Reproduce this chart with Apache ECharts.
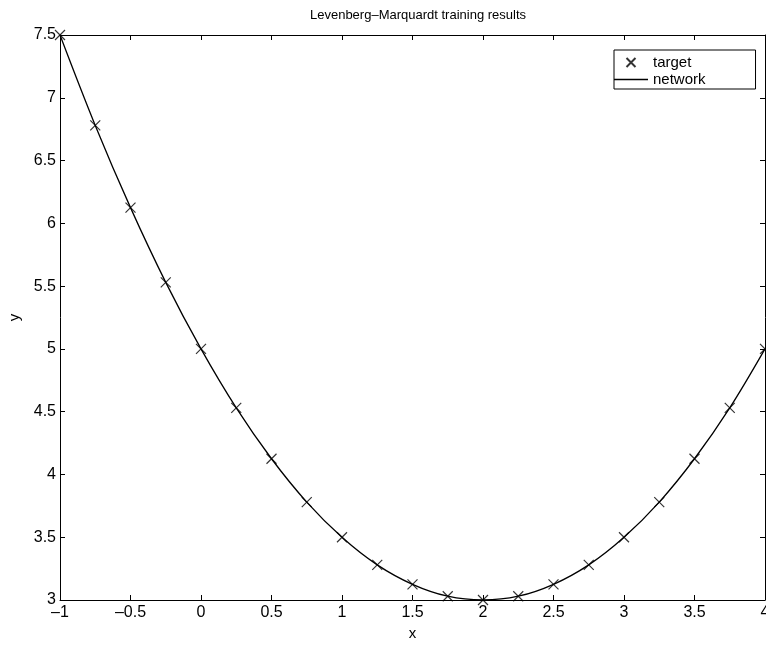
<!DOCTYPE html>
<html>
<head>
<meta charset="utf-8">
<script src="https://cdn.jsdelivr.net/npm/echarts@6/dist/echarts.min.js"></script>
<style>html,body{margin:0;padding:0;background:#fff}#c{width:766px;height:646px}</style>
</head>
<body>
<div id="c"></div>
<script>
var xValues = [-1, -0.75, -0.5, -0.25, 0, 0.25, 0.5, 0.75, 1, 1.25, 1.5, 1.75, 2, 2.25, 2.5, 2.75, 3, 3.25, 3.5, 3.75, 4];
var targetValues = [7.5, 6.78, 6.125, 5.53, 5.0, 4.53, 4.125, 3.78, 3.5, 3.28, 3.125, 3.03, 3.0, 3.03, 3.125, 3.28, 3.5, 3.78, 4.125, 4.53, 5.0];
var networkValues = [7.5, 6.78, 6.125, 5.53, 5.0, 4.53, 4.125, 3.78, 3.5, 3.28, 3.125, 3.03, 3.0, 3.03, 3.125, 3.28, 3.5, 3.78, 4.125, 4.53, 5.0];
var titleText = 'Levenberg–Marquardt training results';
var seriesNames = ['target', 'network'];

function pairs(xs, ys) { return xs.map(function (x, i) { return [x, ys[i]]; }); }
function fmt(v) { return String(v).replace('-', '–'); }

var FONT = 'Liberation Sans, Arial, sans-serif';
var crossPath = 'path://M0,0L10,10M10,0L0,10';

var baseAxis = {
  axisLine: { show: true, onZero: false, lineStyle: { color: '#000', width: 1 } },
  axisTick: { show: true, inside: true, length: 5, lineStyle: { color: '#000' } },
  splitLine: { show: false }
};

var chart = echarts.init(document.getElementById('c'), null, { renderer: 'canvas' });
chart.setOption({
  backgroundColor: '#fff',
  animation: false,
  title: {
    text: titleText, left: 413, top: 4, textAlign: 'center',
    textStyle: { fontFamily: FONT, fontSize: 13, fontWeight: 'normal', color: '#000' }
  },
  legend: {
    orient: 'vertical', left: 614, top: 50,
    padding: [5, 50, 2, 0], itemWidth: 34, itemHeight: 9, itemGap: 2,
    borderColor: '#000', borderWidth: 1, backgroundColor: '#fff',
    textStyle: { fontFamily: FONT, fontSize: 15, color: '#000' },
    data: [
      { name: seriesNames[0] },
      { name: seriesNames[1], icon: 'path://M0,0L34,0L34,1.3L0,1.3Z', itemStyle: { color: '#000', borderWidth: 0 } }
    ]
  },
  grid: { left: 60, right: 1, top: 35, bottom: 46, containLabel: false, outerBoundsMode: 'none' },
  xAxis: [
    Object.assign({}, baseAxis, {
      type: 'value', min: -1, max: 4, interval: 0.5, position: 'bottom',
      name: 'x', nameLocation: 'middle', nameGap: 26,
      nameTextStyle: { fontFamily: FONT, fontSize: 15, color: '#000' },
      axisLabel: { fontFamily: FONT, fontSize: 16, color: '#000', margin: 5, formatter: fmt }
    }),
    Object.assign({}, baseAxis, {
      type: 'value', min: -1, max: 4, interval: 0.5, position: 'top',
      axisLabel: { show: false }
    })
  ],
  yAxis: [
    Object.assign({}, baseAxis, {
      type: 'value', min: 3, max: 7.5, interval: 0.5, position: 'left',
      name: 'y', nameLocation: 'middle', nameGap: 38,
      nameTextStyle: { fontFamily: FONT, fontSize: 15, color: '#000' },
      axisLabel: { fontFamily: FONT, fontSize: 16, color: '#000', margin: 4, formatter: fmt }
    }),
    Object.assign({}, baseAxis, {
      type: 'value', min: 3, max: 7.5, interval: 0.5, position: 'right',
      axisLabel: { show: false }
    })
  ],
  series: [
    {
      name: seriesNames[0], type: 'scatter', xAxisIndex: 0, yAxisIndex: 0,
      symbol: crossPath, symbolSize: 10,
      itemStyle: { color: 'none', borderColor: '#000', borderWidth: 1.2 },
      data: pairs(xValues, targetValues), z: 3
    },
    {
      name: seriesNames[1], type: 'line', xAxisIndex: 0, yAxisIndex: 0,
      symbol: 'none', smooth: 0.35,
      lineStyle: { color: '#000', width: 1.3 },
      itemStyle: { color: '#000' },
      data: pairs(xValues, networkValues), z: 2
    }
  ]
});
</script>
</body>
</html>
